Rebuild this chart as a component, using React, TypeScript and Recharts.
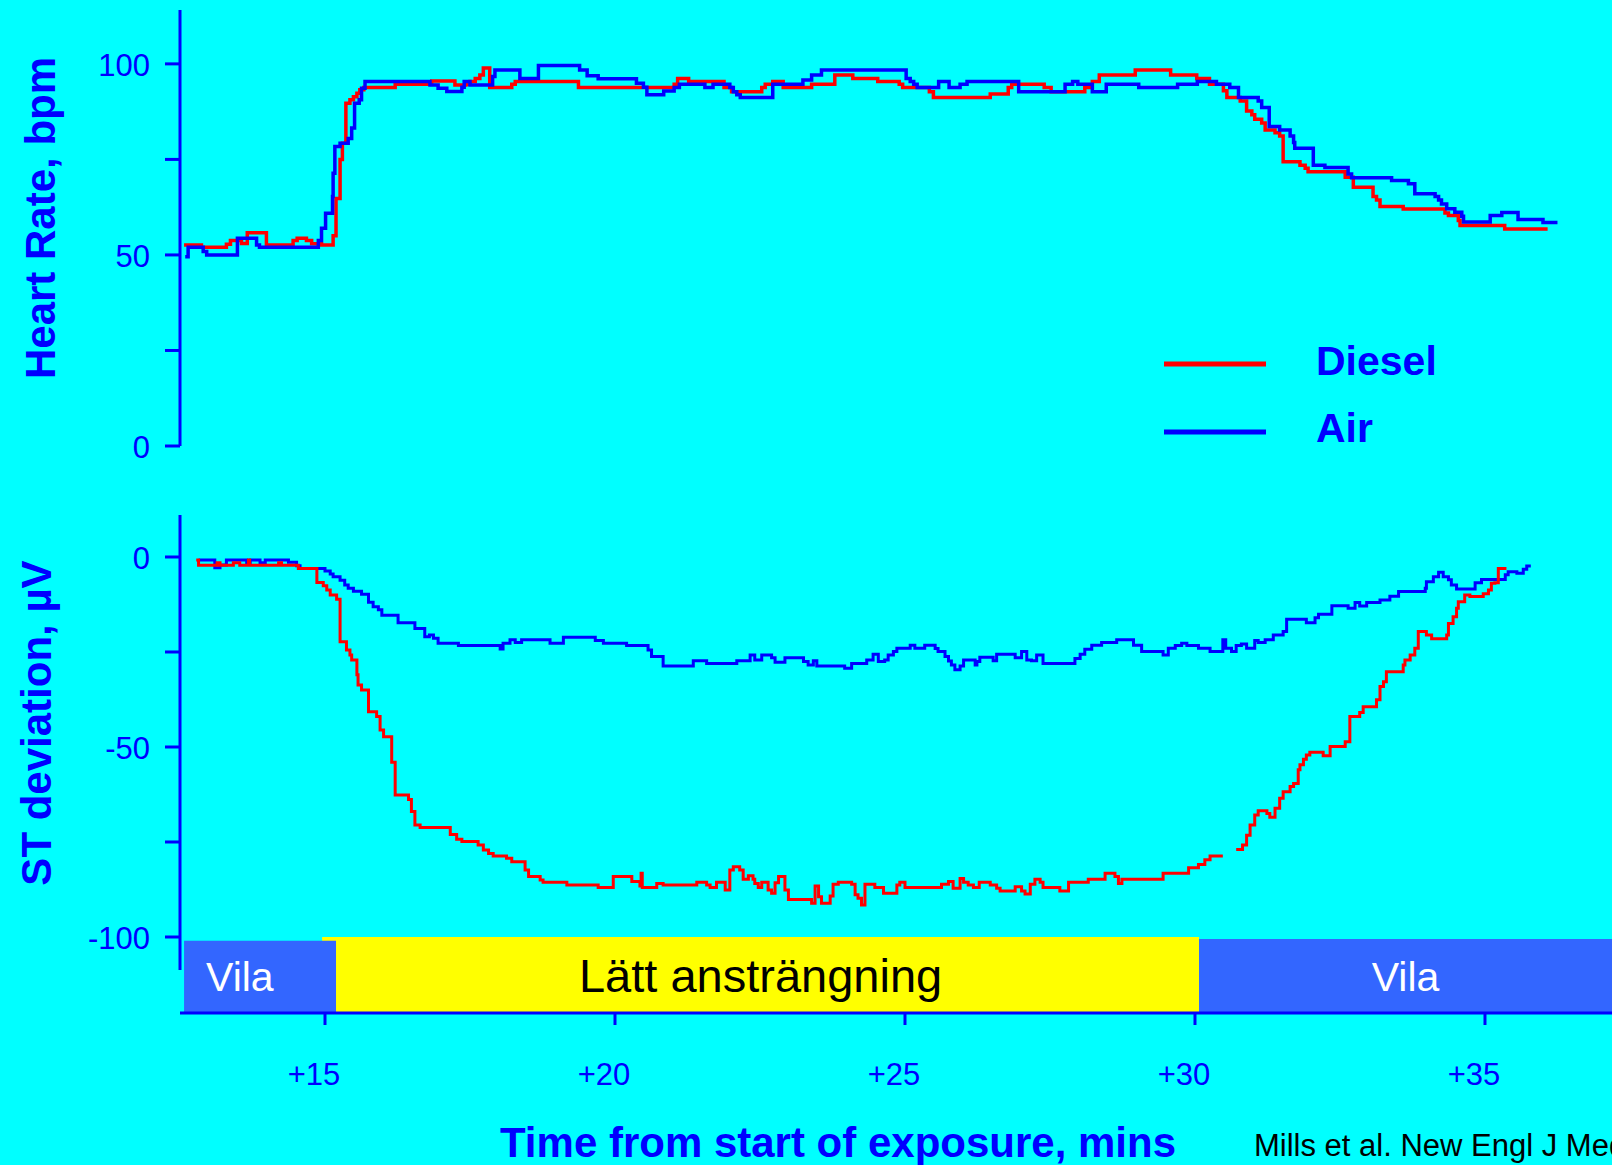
import { LineChart, Line, XAxis, YAxis, ReferenceArea, ReferenceLine } from 'recharts'

// Heart rate and ST deviation during exercise, diesel exhaust vs filtered air.
type Pt = [number, number | null]

const W = 1612
const H = 1165
const BG = '#00ffff'
const BLUE = '#0000ff'
const RED = '#ff0000'
const FONT = '"Liberation Sans", Arial, Helvetica, sans-serif'

const X_DOMAIN: [number, number] = [12.5, 37.19]
const xTicks = [15, 20, 25, 30, 35]
const hrTicks = [0, 25, 50, 75, 100]
const hrLabels = [0, 50, 100]
const stTicks = [0, -25, -50, -75, -100]
const stLabels = [0, -50, -100]

const seriesNames = ['Diesel', 'Air']

const phaseNames = ['Vila', 'Lätt ansträngning', 'Vila']
const phaseStart = [12.57, 14.95, 30.07]
const phaseEnd = [15.19, 30.07, 37.19]

// [minutes, bpm]
const hrDiesel: Pt[] = [
  [12.57, 52.6], [12.87, 52.0], [13.30, 52.8], [13.37, 53.8], [13.56, 53.0], [13.66, 55.8], [13.99, 52.6],
  [14.45, 53.8], [14.52, 54.4], [14.68, 53.8], [14.77, 52.9], [14.94, 52.6], [15.14, 55.0], [15.19, 64.8],
  [15.26, 75.0], [15.30, 79.2], [15.36, 89.7], [15.43, 90.6], [15.49, 91.4], [15.55, 92.3], [15.60, 93.2],
  [15.67, 93.8], [16.21, 94.7], [16.84, 95.5], [17.24, 94.5], [17.43, 94.7], [17.50, 95.4], [17.59, 96.2],
  [17.67, 97.1], [17.73, 98.9], [17.84, 93.8], [18.22, 94.7], [18.28, 95.4], [19.37, 93.8], [21.02, 94.7],
  [21.08, 96.2], [21.27, 95.4], [21.88, 93.8], [22.01, 92.7], [22.53, 93.8], [22.59, 94.7], [22.72, 95.4],
  [22.90, 93.8], [23.39, 94.7], [23.79, 97.1], [24.10, 96.2], [24.53, 95.4], [24.90, 94.7], [24.96, 93.8],
  [25.42, 92.7], [25.49, 91.2], [26.47, 92.1], [26.78, 93.8], [26.84, 94.7], [27.40, 93.8], [27.52, 92.7],
  [28.10, 93.8], [28.23, 95.4], [28.35, 97.1], [28.97, 98.4], [29.58, 97.1], [30.03, 96.2], [30.25, 94.7],
  [30.49, 93.0], [30.55, 91.2], [30.78, 90.3], [30.89, 87.7], [30.98, 86.7], [31.03, 85.5], [31.15, 84.5],
  [31.21, 82.7], [31.38, 82.0], [31.46, 81.1], [31.52, 74.4], [31.81, 73.5], [31.90, 72.7], [31.95, 71.8],
  [32.59, 70.3], [32.73, 67.7], [33.07, 65.3], [33.13, 64.4], [33.19, 62.7], [33.59, 62.0], [34.31, 61.0],
  [34.37, 60.3], [34.54, 59.0], [34.57, 57.7], [35.34, 56.8], [36.08, 56.8],
]

const hrAir: Pt[] = [
  [12.59, 49.5], [12.64, 52.0], [12.90, 50.9], [12.96, 50.0], [13.49, 54.4], [13.82, 52.6], [13.87, 52.0],
  [14.885, 53.8], [14.94, 57.0], [15.01, 60.9], [15.13, 65.3], [15.14, 71.4], [15.17, 78.4], [15.26, 79.2],
  [15.40, 80.5], [15.46, 83.2], [15.51, 89.7], [15.59, 90.6], [15.63, 93.6], [15.69, 95.4], [16.81, 94.5],
  [16.95, 93.6], [17.10, 92.8], [17.36, 93.9], [17.40, 95.4], [17.50, 94.5], [17.89, 96.7], [17.93, 98.4],
  [18.36, 96.2], [18.68, 99.6], [19.39, 98.4], [19.52, 96.9], [19.71, 96.1], [20.37, 94.9], [20.49, 93.9],
  [20.55, 91.9], [20.84, 92.9], [21.02, 93.8], [21.11, 94.7], [21.55, 93.8], [21.69, 94.7], [21.98, 93.8],
  [22.04, 92.7], [22.10, 91.9], [22.16, 91.2], [22.72, 94.7], [23.24, 95.8], [23.39, 97.1], [23.56, 98.4],
  [25.02, 96.2], [25.09, 95.4], [25.15, 94.7], [25.21, 93.8], [25.58, 95.4], [25.76, 93.8], [25.95, 94.7],
  [26.07, 95.4], [26.96, 92.7], [27.76, 94.7], [27.89, 95.4], [27.98, 94.7], [28.23, 92.7], [28.47, 94.7],
  [29.03, 93.8], [29.70, 94.7], [30.04, 95.4], [30.37, 94.7], [30.60, 93.8], [30.75, 91.2], [31.09, 90.3],
  [31.15, 88.6], [31.28, 83.6], [31.46, 82.7], [31.64, 81.1], [31.70, 79.4], [31.72, 77.9], [32.04, 73.5],
  [32.24, 72.9], [32.64, 71.2], [32.70, 70.2], [33.39, 69.5], [33.68, 68.6], [33.79, 66.0], [34.14, 65.3],
  [34.20, 64.4], [34.25, 63.3], [34.34, 62.1], [34.48, 61.2], [34.60, 60.1], [34.63, 58.6], [35.09, 60.3],
  [35.29, 61.1], [35.57, 59.3], [36.00, 58.5], [36.25, 58.5],
]

// [minutes, µV]
const stDiesel: Pt[] = [
  [12.78, -0.8], [12.82, -2.2], [13.14, -1.5], [13.19, -2.2], [13.42, -1.5], [13.53, -2.2], [13.68, -0.8],
  [13.70, -2.2], [14.20, -1.5], [14.25, -2.2], [14.54, -3.0], [14.86, -6.7], [14.97, -7.6], [15.03, -8.7],
  [15.09, -10.0], [15.20, -11.1], [15.26, -22.3], [15.37, -24.5], [15.43, -25.8], [15.46, -27.1], [15.55, -31.0],
  [15.57, -33.7], [15.63, -35.0], [15.75, -40.7], [15.89, -42.0], [15.95, -45.5], [16.01, -47.3], [16.15, -54.0],
  [16.21, -62.6], [16.44, -63.8], [16.49, -67.0], [16.55, -70.5], [16.64, -71.2], [17.16, -73.0], [17.27, -74.3],
  [17.36, -74.9], [17.64, -75.8], [17.73, -77.1], [17.82, -78.0], [17.90, -78.7], [18.13, -79.3], [18.22, -80.2],
  [18.45, -82.4], [18.51, -84.1], [18.71, -85.0], [18.76, -85.6], [19.17, -86.3], [19.71, -87.0], [19.97, -84.1],
  [20.29, -85.4], [20.43, -86.6], [20.45, -83.2], [20.47, -87.0], [20.72, -85.9], [20.83, -86.3], [21.41, -85.6],
  [21.58, -86.3], [21.64, -87.0], [21.75, -85.6], [21.90, -87.6], [21.98, -82.4], [22.04, -81.5], [22.15, -82.4],
  [22.21, -84.8], [22.30, -83.9], [22.38, -84.8], [22.41, -85.9], [22.47, -87.0], [22.53, -85.6], [22.64, -87.6],
  [22.70, -88.5], [22.76, -85.7], [22.82, -84.1], [22.93, -87.6], [22.99, -90.1], [23.39, -91.1], [23.45, -86.6],
  [23.51, -89.4], [23.56, -91.1], [23.71, -89.2], [23.76, -86.1], [23.85, -85.6], [24.08, -86.1], [24.14, -88.9],
  [24.19, -89.8], [24.25, -91.6], [24.31, -86.1], [24.48, -87.0], [24.63, -88.5], [24.86, -86.3], [24.91, -85.6],
  [25.00, -87.0], [25.63, -86.1], [25.75, -85.4], [25.83, -87.2], [25.95, -84.6], [26.01, -85.6], [26.09, -86.3],
  [26.18, -87.0], [26.28, -85.6], [26.47, -86.3], [26.58, -87.2], [26.64, -87.9], [26.90, -86.8], [27.01, -87.9],
  [27.07, -88.7], [27.16, -86.1], [27.24, -84.8], [27.33, -85.6], [27.38, -87.0], [27.67, -87.9], [27.82, -85.6],
  [28.16, -84.8], [28.45, -83.2], [28.62, -84.1], [28.68, -85.9], [28.74, -84.8], [29.45, -83.2], [29.89, -81.8],
  [30.06, -80.9], [30.17, -79.7], [30.26, -78.7], [30.48, -78.7], [30.50, null], [30.71, -77.0], [30.82, -75.8],
  [30.89, -73.2], [30.95, -70.5], [31.03, -67.9], [31.09, -66.8], [31.24, -67.5], [31.29, -68.5], [31.38, -66.1],
  [31.46, -63.5], [31.52, -61.8], [31.64, -60.4], [31.70, -59.6], [31.78, -56.0], [31.81, -54.7], [31.87, -53.2],
  [31.92, -52.1], [31.98, -51.4], [32.21, -52.3], [32.33, -49.9], [32.59, -48.6], [32.67, -42.0], [32.84, -40.9],
  [32.90, -39.4], [33.13, -37.6], [33.19, -34.1], [33.25, -32.8], [33.30, -30.2], [33.59, -28.4], [33.62, -27.1],
  [33.71, -25.8], [33.79, -24.0], [33.85, -19.6], [33.99, -20.5], [34.08, -21.5], [34.34, -20.5], [34.37, -17.5],
  [34.45, -15.7], [34.51, -13.5], [34.54, -11.8], [34.65, -10.0], [34.74, -10.4], [34.97, -9.7], [35.06, -8.7],
  [35.11, -6.9], [35.17, -6.8], [35.23, -3.0], [35.37, -3.0],
]

const stAir: Pt[] = [
  [12.82, -0.8], [13.10, -2.8], [13.19, -2.1], [13.30, -0.8], [13.65, -1.5], [13.71, -0.8], [13.88, -1.5],
  [13.97, -0.8], [14.37, -1.4], [14.51, -2.3], [14.57, -3.0], [15.00, -3.7], [15.09, -4.5], [15.14, -5.2],
  [15.26, -6.1], [15.34, -7.4], [15.40, -8.2], [15.49, -9.0], [15.63, -9.8], [15.75, -11.9], [15.83, -13.1],
  [15.92, -13.9], [15.98, -15.3], [16.26, -17.3], [16.55, -18.8], [16.72, -21.0], [16.80, -20.5], [16.87, -21.4],
  [16.95, -22.7], [17.30, -23.3], [18.02, -24.2], [18.07, -22.7], [18.19, -21.8], [18.28, -22.5], [18.39, -21.8],
  [18.88, -22.7], [19.11, -21.1], [19.66, -22.0], [19.80, -22.7], [20.20, -23.3], [20.57, -24.5], [20.63, -26.2],
  [20.83, -28.7], [21.35, -27.3], [21.58, -28.0], [22.10, -27.3], [22.33, -25.8], [22.41, -27.1], [22.53, -25.8],
  [22.70, -26.5], [22.76, -27.7], [22.93, -26.5], [23.25, -27.5], [23.33, -28.4], [23.42, -27.3], [23.48, -28.7],
  [23.96, -29.3], [24.08, -28.0], [24.34, -27.1], [24.45, -25.6], [24.54, -27.5], [24.65, -27.1], [24.71, -25.8],
  [24.80, -24.9], [24.86, -24.0], [25.09, -23.2], [25.17, -24.0], [25.34, -23.2], [25.52, -24.1], [25.57, -24.9],
  [25.69, -26.2], [25.75, -27.4], [25.80, -28.4], [25.86, -29.7], [25.95, -28.7], [26.01, -27.1], [26.21, -28.4],
  [26.24, -27.5], [26.29, -26.4], [26.52, -27.3], [26.58, -25.6], [26.90, -26.5], [27.01, -24.9], [27.10, -27.1],
  [27.18, -27.3], [27.27, -25.8], [27.38, -28.0], [27.93, -26.7], [28.02, -25.6], [28.10, -24.3], [28.22, -23.2],
  [28.39, -22.5], [28.65, -21.8], [28.94, -23.2], [29.08, -24.9], [29.45, -25.8], [29.54, -24.0], [29.66, -23.3],
  [29.77, -22.7], [29.86, -23.3], [30.06, -24.0], [30.26, -24.9], [30.48, -21.8], [30.53, -24.0], [30.63, -24.9],
  [30.71, -23.3], [30.80, -22.9], [30.89, -24.0], [31.03, -22.0], [31.09, -22.5], [31.21, -21.8], [31.35, -20.5],
  [31.52, -19.6], [31.58, -16.4], [31.92, -17.3], [32.07, -16.0], [32.13, -15.1], [32.36, -12.8], [32.64, -13.5],
  [32.76, -12.0], [32.84, -12.9], [32.96, -12.0], [33.19, -11.3], [33.36, -10.3], [33.51, -9.1], [33.97, -8.2],
  [33.99, -6.5], [34.11, -5.2], [34.20, -4.0], [34.28, -5.2], [34.37, -6.0], [34.42, -7.4], [34.51, -8.4],
  [34.83, -6.8], [34.94, -5.9], [35.35, -4.7], [35.40, -3.9], [35.55, -4.3], [35.66, -3.2], [35.72, -2.4],
  [35.79, -2.4],
]

const toRows = (pts: Pt[]) => pts.map(([t, v]) => ({ t, v }))

const SERIES_COLORS = [RED, BLUE]

// band styles, index-aligned with phaseNames
const PHASE_STYLE = [
  { fill: '#3366ff', text: '#ffffff', top: -101, pos: 'insideLeft', offset: 22, size: 41 },
  { fill: '#ffff00', text: '#000000', top: -100, pos: 'center', offset: 0, size: 47 },
  { fill: '#3366ff', text: '#ffffff', top: -100.5, pos: 'center', offset: 0, size: 41 },
]

function YTick({ x, y, payload, labels }: any) {
  if (!labels.includes(payload.value)) return <g />
  return (
    <text x={x} y={y} dy={12} textAnchor="end" fill={BLUE} fontSize={31} fontFamily={FONT}>
      {payload.value}
    </text>
  )
}

function XTick({ x, y, payload }: any) {
  return (
    <text x={x - 11} y={y} dy={60} textAnchor="middle" fill={BLUE} fontSize={31} fontFamily={FONT}>
      {`+${payload.value}`}
    </text>
  )
}

const axisStroke = { stroke: BLUE, strokeWidth: 3 }

export default function App() {
  const hrSeries = [hrDiesel, hrAir]
  const stSeries = [stDiesel, stAir]

  return (
    <div style={{ position: 'absolute', left: 0, top: 0, width: W, height: H, background: BG, overflow: 'hidden', fontFamily: FONT }}>
      <div style={{ position: 'absolute', left: 0, top: 460 }}>
        <LineChart width={W} height={705} margin={{ top: 55, right: 0, bottom: 92, left: 0 }}>
          <XAxis type="number" dataKey="t" domain={X_DOMAIN} allowDataOverflow ticks={xTicks} interval={0}
                 height={60} tickSize={12} tickMargin={0}
                 axisLine={axisStroke} tickLine={axisStroke} tick={<XTick />} />
          <YAxis type="number" domain={[-120, 11.05]} allowDataOverflow ticks={stTicks} interval={0}
                 width={180} tickSize={15} tickMargin={15}
                 axisLine={false} tickLine={axisStroke} tick={<YTick labels={stLabels} />} />
          <ReferenceLine segment={[{ x: X_DOMAIN[0], y: 11.05 }, { x: X_DOMAIN[0], y: -108.7 }]}
                         stroke={BLUE} strokeWidth={3} />
          {[1, 0, 2].map(i => {
            const ps = PHASE_STYLE[i]
            return (
              <ReferenceArea key={i} x1={phaseStart[i]} x2={phaseEnd[i]} y1={ps.top} y2={-120}
                             fill={ps.fill} fillOpacity={1} stroke="none"
                             label={{ value: phaseNames[i], position: ps.pos as any, offset: ps.offset,
                                      fill: ps.text, fontSize: ps.size, fontFamily: FONT }} />
            )
          })}
          {stSeries.map((s, i) => (
            <Line key={seriesNames[i]} data={toRows(s)} dataKey="v" type="stepAfter"
                  stroke={SERIES_COLORS[i]} strokeWidth={3} dot={false} activeDot={false}
                  isAnimationActive={false} />
          )).reverse()}
        </LineChart>
      </div>

      <div style={{ position: 'absolute', left: 0, top: 0 }}>
        <LineChart width={W} height={480} margin={{ top: 10, right: 0, bottom: 34, left: 0 }}>
          <XAxis type="number" dataKey="t" domain={X_DOMAIN} allowDataOverflow hide />
          <YAxis type="number" domain={[0, 114.1]} allowDataOverflow ticks={hrTicks} interval={0}
                 width={180} tickSize={15} tickMargin={15}
                 axisLine={axisStroke} tickLine={axisStroke} tick={<YTick labels={hrLabels} />} />
          {hrSeries.map((s, i) => (
            <Line key={seriesNames[i]} data={toRows(s)} dataKey="v" type="stepAfter"
                  stroke={SERIES_COLORS[i]} strokeWidth={3.5} dot={false} activeDot={false}
                  isAnimationActive={false} />
          ))}
        </LineChart>
      </div>

      <svg width={W} height={H} style={{ position: 'absolute', left: 0, top: 0, pointerEvents: 'none' }}>
        <text transform="translate(55 218) rotate(-90)" textAnchor="middle" fill={BLUE}
              fontSize={42} fontWeight="bold" fontFamily={FONT}>Heart Rate, bpm</text>
        <text transform="translate(51 723) rotate(-90)" textAnchor="middle" fill={BLUE}
              fontSize={42} fontWeight="bold" fontFamily={FONT}>ST deviation, µV</text>

        {seriesNames.map((name, i) => (
          <g key={name}>
            <line x1={1164} x2={1266} y1={364 + i * 68} y2={364 + i * 68} stroke={SERIES_COLORS[i]} strokeWidth={5} />
            <text x={1316} y={375 + i * 67} fill={BLUE} fontSize={41} fontWeight="bold" fontFamily={FONT}>{name}</text>
          </g>
        ))}

        <text x={838} y={1157} textAnchor="middle" fill={BLUE} fontSize={42} fontWeight="bold" fontFamily={FONT}>
          Time from start of exposure, mins
        </text>
        <text x={1254} y={1156} fill="#000" fontSize={31} fontFamily={FONT}>
          Mills et al. New Engl J Med 2007
        </text>
      </svg>
    </div>
  )
}
